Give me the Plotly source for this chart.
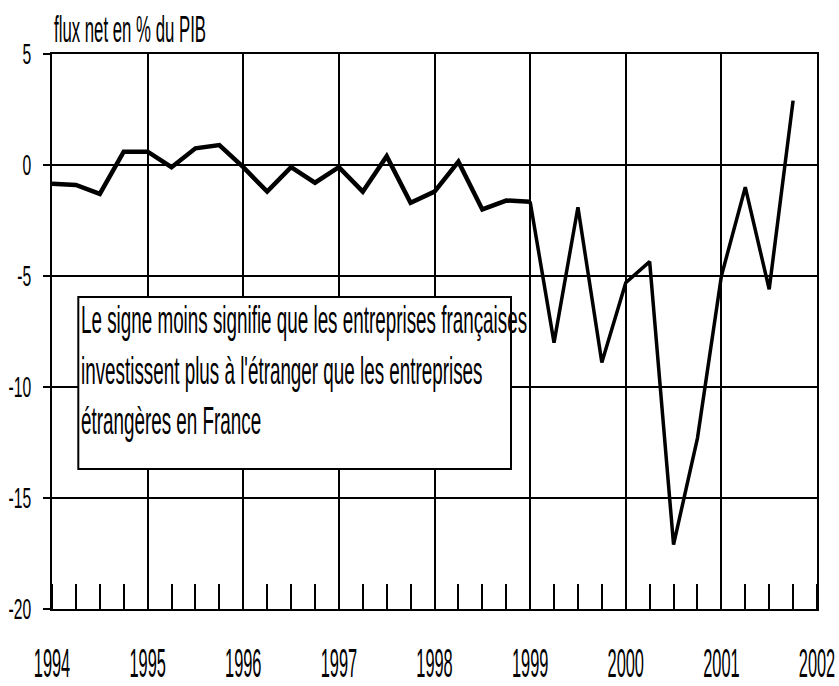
import json
import plotly.graph_objects as go

# Quarterly net direct-investment flows, % of GDP
quarters_early = [1994.00, 1994.25, 1994.50, 1994.75, 1995.00, 1995.25, 1995.50, 1995.75,
                  1996.00, 1996.25, 1996.50, 1996.75, 1997.00, 1997.25, 1997.50, 1997.75,
                  1998.00, 1998.25, 1998.50, 1998.75, 1999.00]
flux_early = [-0.85, -0.9, -1.3, 0.6, 0.6, -0.1, 0.75, 0.9,
              -0.1, -1.2, -0.1, -0.8, -0.1, -1.2, 0.4, -1.7,
              -1.2, 0.15, -2.0, -1.6, -1.65]

quarters_late = [1999.00, 1999.25, 1999.50, 1999.75, 2000.00, 2000.25, 2000.50, 2000.75,
                 2001.00, 2001.25, 2001.50, 2001.75]
flux_late = [-1.65, -8.0, -1.9, -8.9, -5.3, -4.35, -17.1, -12.3,
             -5.0, -1.0, -5.6, 2.9]

year_ticks = [1994, 1995, 1996, 1997, 1998, 1999, 2000, 2001, 2002]
y_ticks = [5, 0, -5, -10, -15, -20]
y_tick_text = ["5", "0", "-5", "-10", "-15", "-20"]

unit_label = "flux net en % du PIB"
note_lines = [
    "Le signe moins signifie que les entreprises françaises",
    "investissent plus à l'étranger que les entreprises",
    "étrangères en France",
]

FONT = "Liberation Sans, Arial, sans-serif"

fig = go.Figure()
fig.add_trace(go.Scatter(x=quarters_early, y=flux_early, mode="lines",
                         line=dict(color="black", width=4.5), showlegend=False,
                         hoverinfo="skip"))
fig.add_trace(go.Scatter(x=quarters_late, y=flux_late, mode="lines",
                         line=dict(color="black", width=3.5), showlegend=False,
                         hoverinfo="skip"))

# white note box sitting over the grid
fig.add_shape(type="rect", xref="x", yref="y", x0=1994.275, x1=1998.80, y0=-13.69, y1=-5.95,
              fillcolor="white", line=dict(color="black", width=2), layer="above")

fig.add_annotation(text=unit_label, xref="paper", yref="paper", x=0, y=1,
                   xanchor="left", yanchor="bottom", yshift=2, align="left", showarrow=False,
                   font=dict(family=FONT, size=36, color="black"))
fig.add_annotation(text="<br>".join(note_lines), xref="x", yref="y", x=1994.275, y=-5.95,
                   xanchor="left", yanchor="top", xshift=1, yshift=1, align="left",
                   showarrow=False, font=dict(family=FONT, size=39, color="black"))

fig.update_xaxes(range=[1994, 2002], tickvals=year_ticks, ticktext=[str(v) for v in year_ticks],
                 showgrid=True, gridcolor="black", gridwidth=2,
                 showline=True, linecolor="black", linewidth=2, mirror=True,
                 ticks="", ticklabelstandoff=18, zeroline=False, automargin=False,
                 ticklabeloverflow="allow",
                 tickfont=dict(family=FONT, size=40, color="black"),
                 minor=dict(dtick=0.25, tick0=1994, ticks="inside", ticklen=25,
                            tickwidth=2, tickcolor="black", showgrid=False))
fig.update_yaxes(range=[-20, 5], tickvals=y_ticks, ticktext=y_tick_text,
                 showgrid=True, gridcolor="black", gridwidth=2,
                 showline=True, linecolor="black", linewidth=2, mirror=True,
                 ticks="outside", ticklen=7, tickwidth=2, tickcolor="black",
                 ticklabelstandoff=6, zeroline=False, automargin=False,
                 ticklabeloverflow="allow",
                 tickfont=dict(family=FONT, size=29, color="black"))

fig.update_layout(width=839, height=686, autosize=False,
                  margin=dict(l=52, r=22, t=54, b=77),
                  plot_bgcolor="white", paper_bgcolor="white")

# horizontal squeeze factors for the narrow lettering
squeeze = {"x": 0.41, "y": 0.54, "ann": [0.466, 0.483]}

post_js = """
(function(){
  var gd = document.querySelector('.js-plotly-plot');
  var f = FACTORS;
  function squeeze(el, k){
    var w = el.getComputedTextLength();
    if (w > 0) {
      el.setAttribute('textLength', (w * k).toFixed(2));
      el.setAttribute('lengthAdjust', 'spacingAndGlyphs');
    }
  }
  gd.querySelectorAll('.xtick text').forEach(function(t){ squeeze(t, f.x); });
  gd.querySelectorAll('.ytick text').forEach(function(t){ squeeze(t, f.y); });
  gd.querySelectorAll('g.annotation').forEach(function(a){
    var i = parseInt(a.getAttribute('data-index'), 10);
    var k = f.ann[i];
    var t = a.querySelector('text.annotation-text');
    if (!t) return;
    var lines = t.querySelectorAll('tspan.line');
    if (lines.length) { lines.forEach(function(l){ squeeze(l, k); }); }
    else { squeeze(t, k); }
  });
})();
""".replace("FACTORS", json.dumps(squeeze))

fig.write_html("out.html", post_script=post_js)
